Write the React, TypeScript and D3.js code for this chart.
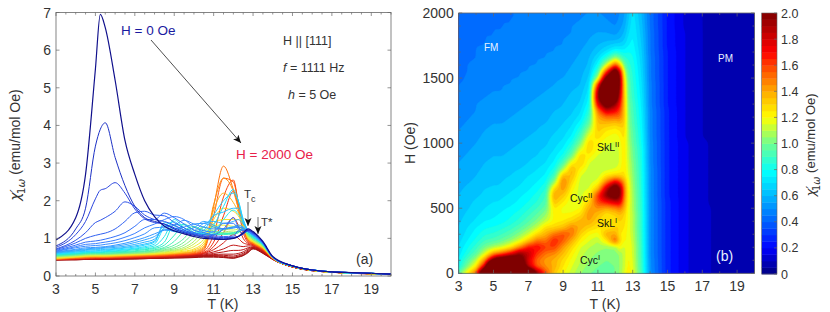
import React, { useMemo } from "react";
import * as d3 from "d3";

const temps = [3,4,4.5,5,5.25,5.5,6,6.5,7,7.5,8,8.5,9,9.5,10,10.5,11,11.5,12,12.25,12.5,12.75,13,13.5,14,15,16,17,18,19,20];
const fields = d3.range(0, 2001, 50);
const chiRows = [
[.96,1.55,2.7,5.5,6.95,6.6,5.2,3.6,2.7,2.0,1.58,1.32,1.2,1.12,1.05,1.0,.98,.97,1.0,1.05,1.15,1.25,1.18,.92,.52,.27,.16,.11,.09,.07,.05],
[.8,1.25,1.8,3.45,3.9,4.07,3.15,2.4,1.85,1.55,1.45,1.38,1.25,1.15,1.08,1.03,1.0,.98,1.0,1.05,1.12,1.22,1.16,.9,.51,.27,.16,.11,.09,.07,.05],
[.76,1.1,1.45,2.05,2.28,2.32,2.48,2.2,1.78,1.52,1.42,1.38,1.28,1.18,1.1,1.05,1.02,1.0,1.02,1.05,1.12,1.22,1.15,.9,.51,.27,.16,.11,.09,.07,.05],
[.72,.95,1.15,1.42,1.48,1.55,1.72,1.97,1.85,1.62,1.5,1.45,1.35,1.22,1.12,1.07,1.04,1.02,1.03,1.05,1.12,1.2,1.14,.89,.5,.27,.16,.11,.09,.07,.05],
[.7,.88,1.0,1.08,1.11,1.14,1.25,1.45,1.68,1.72,1.62,1.6,1.42,1.28,1.15,1.1,1.07,1.05,1.06,1.2,1.13,1.2,1.14,.89,.5,.27,.16,.11,.09,.07,.05],
[.68,.82,.9,.93,.95,.98,1.05,1.15,1.32,1.5,1.5,1.67,1.55,1.38,1.22,1.15,1.1,1.25,1.55,1.3,1.2,1.2,1.12,.88,.5,.27,.16,.11,.09,.07,.05],
[.66,.78,.84,.86,.88,.9,.95,1.03,1.13,1.28,1.38,1.5,1.58,1.5,1.3,1.2,1.17,1.4,1.4,1.25,1.22,1.18,1.11,.88,.5,.27,.16,.11,.09,.07,.05],
[.65,.75,.79,.81,.82,.84,.88,.94,1.02,1.12,1.28,1.3,1.35,1.48,1.38,1.3,1.25,1.25,1.3,1.3,1.25,1.18,1.1,.87,.5,.27,.16,.11,.09,.07,.05],
[.64,.71,.75,.76,.77,.78,.82,.87,.94,1.02,1.12,1.22,1.25,1.3,1.38,1.4,1.3,1.25,1.27,1.3,1.28,1.18,1.1,.87,.5,.27,.16,.11,.09,.07,.05],
[.63,.69,.72,.74,.75,.76,.79,.83,.89,.96,1.05,1.22,1.2,1.22,1.28,1.45,1.35,1.25,1.3,1.35,1.3,1.18,1.1,.87,.5,.27,.16,.11,.09,.07,.05],
[.62,.67,.7,.72,.73,.74,.76,.79,.84,.9,.98,1.25,1.18,1.16,1.2,1.4,1.45,1.4,1.45,1.5,1.38,1.18,1.08,.86,.5,.27,.16,.11,.09,.07,.05],
[.61,.66,.68,.7,.7,.71,.73,.76,.8,.85,.93,1.35,1.25,1.15,1.15,1.3,1.6,1.7,1.8,1.8,1.45,1.2,1.08,.86,.5,.27,.16,.11,.08,.07,.05],
[.6,.64,.66,.67,.68,.69,.71,.74,.77,.82,.9,1.42,1.33,1.18,1.13,1.22,1.62,2.0,2.2,2.0,1.5,1.2,1.07,.85,.5,.26,.16,.11,.08,.07,.05],
[.59,.63,.65,.66,.66,.67,.69,.71,.74,.78,.85,1.3,1.44,1.22,1.12,1.15,1.35,1.85,2.3,2.0,1.5,1.2,1.06,.85,.5,.26,.16,.11,.08,.07,.05],
[.58,.61,.63,.64,.64,.65,.67,.69,.72,.75,.8,1.05,1.5,1.28,1.12,1.12,1.18,1.5,1.75,1.65,1.42,1.18,1.05,.84,.5,.26,.16,.11,.08,.07,.05],
[.57,.6,.62,.63,.63,.64,.65,.67,.7,.72,.76,.9,1.36,1.36,1.15,1.1,1.12,1.25,1.3,1.3,1.28,1.15,1.04,.84,.5,.26,.16,.11,.08,.07,.05],
[.56,.59,.61,.62,.62,.63,.64,.65,.67,.7,.73,.82,1.08,1.38,1.22,1.12,1.1,1.12,1.15,1.18,1.25,1.13,1.03,.83,.5,.26,.16,.11,.08,.07,.05],
[.55,.58,.6,.61,.61,.61,.62,.63,.65,.67,.7,.76,.92,1.2,1.32,1.15,1.1,1.1,1.12,1.15,1.25,1.12,1.02,.83,.49,.26,.16,.11,.08,.07,.05],
[.54,.57,.59,.6,.6,.6,.61,.62,.64,.65,.68,.73,.82,1.0,1.3,1.22,1.14,1.12,1.12,1.15,1.25,1.1,1.0,.82,.49,.26,.16,.11,.08,.07,.05],
[.53,.56,.58,.59,.59,.59,.6,.61,.62,.64,.66,.7,.76,.9,1.15,1.3,1.18,1.14,1.13,1.15,1.25,1.1,.99,.82,.49,.26,.16,.11,.08,.07,.05],
[.52,.55,.57,.58,.58,.58,.59,.6,.61,.62,.64,.68,.72,.82,1.02,1.3,1.2,1.15,1.14,1.17,1.25,1.08,.97,.8,.49,.26,.16,.11,.08,.07,.05],
[.51,.54,.56,.57,.57,.57,.58,.59,.6,.61,.63,.66,.69,.76,.92,1.2,1.28,1.2,1.17,1.2,1.28,1.06,.96,.79,.48,.26,.15,.1,.08,.06,.05],
[.5,.53,.55,.56,.56,.56,.57,.58,.59,.6,.62,.64,.67,.72,.85,1.08,1.32,1.25,1.22,1.25,1.3,1.05,.95,.78,.48,.26,.15,.1,.08,.06,.05],
[.49,.52,.54,.55,.55,.55,.56,.57,.58,.59,.6,.62,.65,.69,.78,.97,1.35,1.35,1.32,1.35,1.32,1.03,.93,.77,.48,.26,.15,.1,.08,.06,.05],
[.48,.51,.53,.54,.54,.54,.55,.56,.57,.58,.59,.61,.63,.66,.72,.9,1.4,1.5,1.5,1.5,1.35,1.02,.92,.76,.48,.26,.15,.1,.08,.06,.05],
[.47,.5,.52,.53,.53,.53,.54,.55,.56,.57,.58,.6,.61,.64,.69,.84,1.5,1.8,1.72,1.6,1.35,1.0,.91,.75,.48,.26,.15,.1,.08,.06,.05],
[.46,.5,.51,.52,.52,.52,.53,.54,.55,.56,.57,.58,.6,.62,.66,.79,1.75,2.2,1.95,1.7,1.35,.99,.9,.74,.47,.25,.15,.1,.08,.06,.05],
[.45,.49,.5,.51,.51,.51,.52,.53,.54,.55,.56,.57,.59,.61,.64,.75,1.9,2.6,2.25,1.8,1.35,.97,.88,.73,.47,.25,.15,.1,.08,.06,.05],
[.45,.48,.49,.5,.5,.5,.51,.52,.53,.54,.55,.56,.58,.6,.62,.72,1.85,2.92,2.3,1.9,1.32,.96,.87,.72,.47,.25,.15,.1,.08,.06,.05],
[.45,.47,.48,.49,.49,.5,.5,.51,.52,.53,.54,.55,.57,.58,.6,.69,1.6,2.6,2.5,1.95,1.3,.95,.86,.71,.47,.25,.15,.1,.08,.06,.05],
[.44,.47,.48,.49,.49,.49,.5,.5,.51,.52,.53,.54,.55,.57,.59,.66,1.1,2.1,2.55,1.95,1.25,.93,.85,.7,.46,.25,.15,.1,.08,.06,.05],
[.44,.46,.47,.48,.48,.48,.49,.5,.5,.51,.52,.53,.54,.56,.58,.63,.9,1.6,2.25,1.8,1.15,.9,.84,.69,.46,.25,.15,.1,.08,.06,.05],
[.44,.46,.47,.47,.48,.48,.48,.49,.5,.5,.51,.52,.53,.55,.57,.61,.78,1.15,1.55,1.35,1.0,.87,.83,.68,.46,.25,.15,.1,.08,.06,.05],
[.44,.45,.46,.47,.47,.47,.48,.48,.49,.5,.5,.51,.52,.54,.56,.6,.7,.88,1.1,1.0,.88,.84,.81,.67,.46,.25,.15,.1,.08,.06,.05],
[.44,.45,.46,.46,.46,.47,.47,.48,.48,.49,.5,.5,.51,.53,.55,.58,.64,.72,.82,.8,.78,.8,.79,.66,.45,.25,.15,.1,.08,.06,.05],
[.43,.45,.45,.46,.46,.46,.47,.47,.48,.48,.49,.5,.5,.52,.54,.56,.6,.64,.68,.68,.7,.75,.77,.65,.45,.24,.15,.1,.08,.06,.05],
[.43,.44,.45,.45,.46,.46,.46,.47,.47,.48,.48,.49,.5,.51,.53,.55,.57,.58,.58,.6,.64,.72,.76,.64,.45,.24,.15,.1,.08,.06,.05],
[.43,.44,.45,.45,.45,.45,.46,.46,.47,.47,.48,.49,.49,.5,.52,.54,.55,.55,.53,.56,.6,.69,.75,.63,.45,.24,.15,.1,.08,.06,.05],
[.43,.44,.44,.45,.45,.45,.45,.46,.46,.47,.47,.48,.49,.5,.51,.53,.54,.52,.5,.53,.57,.66,.74,.62,.44,.24,.14,.1,.07,.06,.05],
[.43,.43,.44,.44,.44,.45,.45,.45,.46,.46,.47,.48,.48,.49,.5,.52,.52,.5,.48,.51,.55,.64,.73,.61,.44,.24,.14,.1,.07,.06,.05],
[.43,.43,.44,.44,.44,.44,.45,.45,.45,.46,.47,.47,.48,.48,.49,.5,.5,.49,.47,.5,.54,.62,.72,.6,.44,.24,.14,.1,.07,.06,.05],
];
const tTicks = [3,5,7,9,11,13,15,17,19];
const chiTicks = [0,1,2,3,4,5,6,7];
const hTicks = [0,500,1000,1500,2000];
const barTicks = [0,.2,.4,.6,.8,1,1.2,1.4,1.6,1.8,2];
const heatStops = [0,.2,.4,.6,.78,1.0,1.2,1.4,1.6,1.7,1.85,2];
const heatColors = ["#00007f","#0000ff","#0060ff","#00b8ff","#00ffff","#70ff90","#ffff00","#ffaa00","#ff4000","#ff0000","#c00000","#7f0000"];
const lineStops = [0,50,100,200,300,500,650,800,1000,1150,1250,1350,1450,1550,1700,2000];
const lineColors = ["#10108c","#1c30c4","#2b45dd","#3060f0","#3a80ff","#30b0ff","#20e0ff","#30f0c0","#90f080","#e8f030","#ffd020","#ff9010","#ff5a10","#f03010","#c01818","#a01010"];

const FONT = "'Liberation Sans', Arial, sans-serif";
const INK = "#333";
const FRAME = "#666";
const L = { x0: 56, x1: 391, y0: 276, y1: 12.5 };
const R = { x0: 458.7, x1: 754.5, y0: 273.3, y1: 13 };
const B = { x0: 761.7, x1: 777, y0: 274, y1: 13 };

const heatColor = d3.scaleLinear<string>().domain(heatStops).range(heatColors).clamp(true);
const lineColor = d3.scaleLinear<string>().domain(lineStops).range(lineColors);

function Frame({ b, x, y, xt, yt, xMinor, yMinor }: any) {
  return (
    <g>
      <rect x={b.x0} y={b.y1} width={b.x1 - b.x0} height={b.y0 - b.y1} fill="none" stroke={FRAME} strokeWidth={0.8} />
      {xMinor.map((t: number) => {
        const major = xt.includes(t), s = major ? 3.5 : 2;
        return <path key={t} d={`M${x(t)},${b.y0}v${-s}M${x(t)},${b.y1}v${s}`} stroke={FRAME} strokeWidth={0.7} />;
      })}
      {yMinor.map((v: number) => {
        const major = yt.includes(v), s = major ? 3.5 : 2;
        return <path key={v} d={`M${b.x0},${y(v)}h${s}M${b.x1},${y(v)}h${-s}`} stroke={FRAME} strokeWidth={0.7} />;
      })}
      {xt.map((t: number) => (
        <text key={t} x={x(t)} y={b.y0 + 17.5} fontSize={14} textAnchor="middle" fill={INK} fontFamily={FONT}>{t}</text>
      ))}
      {yt.map((v: number) => (
        <text key={v} x={b.x0 - 5} y={y(v) + 5} fontSize={14} textAnchor="end" fill={INK} fontFamily={FONT}>{v}</text>
      ))}
    </g>
  );
}

function Chi({ x, y, suffix, size = 14 }: any) {
  return (
    <text transform={`translate(${x},${y}) rotate(-90)`} textAnchor="middle" fontSize={size} fill={INK} fontFamily={FONT}>
      <tspan fontFamily="'DejaVu Sans'" fontStyle="italic">χ′</tspan>
      <tspan fontSize={size * 0.75} dy={5} dx={-5} fontFamily="'DejaVu Sans'">1<tspan fontStyle="italic">ω</tspan></tspan>
      <tspan dy={-5}>{suffix}</tspan>
    </text>
  );
}

function sampleGrid(t: number, h: number) {
  const i = Math.min(d3.bisectRight(temps, t) - 1, temps.length - 2);
  const j = Math.min(Math.floor(h / 50), fields.length - 2);
  const u = (t - temps[i]) / (temps[i + 1] - temps[i]);
  const w = (h - fields[j]) / 50;
  const a = chiRows[j][i], b = chiRows[j][i + 1], c = chiRows[j + 1][i], e = chiRows[j + 1][i + 1];
  return (a * (1 - u) + b * u) * (1 - w) + (c * (1 - u) + e * u) * w;
}

export default function App() {
  const lx = d3.scaleLinear().domain([3, 20]).range([L.x0, L.x1]);
  const ly = d3.scaleLinear().domain([0, 7]).range([L.y0, L.y1]);
  const rx = d3.scaleLinear().domain([3, 20]).range([R.x0, R.x1]);
  const ry = d3.scaleLinear().domain([0, 2000]).range([R.y0, R.y1]);
  const by = d3.scaleLinear().domain([0, 2]).range([B.y0, B.y1]);
  const line = d3.line<number>().x((_, i) => lx(temps[i])).y((v) => ly(v)).curve(d3.curveMonotoneX);

  const bands = useMemo(() => {
    const nx = 341, ny = 201;
    const dt = 17 / (nx - 1), dh = 2000 / (ny - 1);
    const vals = new Float64Array(nx * ny);
    for (let j = 0; j < ny; j++) for (let i = 0; i < nx; i++) {
      vals[j * nx + i] = Math.min(sampleGrid(3 + i * dt, j * dh), 2.6);
    }
    const grid = { data: vals, width: nx, height: ny };
    d3.blur2(grid, 1, 1);
    const thresholds = d3.range(0, 2.001, 0.05);
    const cs = d3.contours().size([nx, ny]).thresholds(thresholds)(Array.from(vals));
    const proj = d3.geoTransform({
      point(px: number, py: number) {
        (this as any).stream.point(rx(3 + (px - 0.5) * dt), ry((py - 0.5) * dh));
      },
    });
    const path = d3.geoPath(proj);
    return cs.map((c) => ({ v: c.value, d: path(c as any) || "" }));
  }, []);

  const barBands = d3.range(0, 2, 0.05);

  return (
    <svg width={830} height={312} style={{ position: "absolute", left: 0, top: 0 }}>
      <defs>
        <clipPath id="cl"><rect x={L.x0} y={L.y1} width={L.x1 - L.x0} height={L.y0 - L.y1} /></clipPath>
        <clipPath id="cr"><rect x={R.x0} y={R.y1} width={R.x1 - R.x0} height={R.y0 - R.y1} /></clipPath>
        <marker id="ah" markerWidth={9} markerHeight={8} refX={8} refY={3.5} orient="auto" markerUnits="userSpaceOnUse">
          <path d="M0,0L8,3.5L0,7L2,3.5Z" fill="#111" />
        </marker>
      </defs>

      {/* panel (a) */}
      <g clipPath="url(#cl)">
        {chiRows.map((row, k) => ({ row, k })).reverse().map(({ row, k }) => (
          <path key={k} d={line(row) || ""} fill="none" stroke={lineColor(fields[k])} strokeWidth={k === 0 ? 1.2 : 1} />
        ))}
      </g>
      <Frame b={L} x={lx} y={ly} xt={tTicks} yt={chiTicks} xMinor={d3.range(3, 20.01, 0.5)} yMinor={chiTicks} />
      <Chi x={20} y={145} suffix=" (emu/mol Oe)" />
      <text x={223} y={309} textAnchor="middle" fontSize={14} fill={INK} fontFamily={FONT}>T (K)</text>
      <text x={121} y={35} fontSize={13.5} fill="#1a1aa0" fontFamily={FONT}>H = 0 Oe</text>
      <text x={236} y={159} fontSize={13.5} fill="#e8204a" fontFamily={FONT}>H = 2000 Oe</text>
      <text x={283} y={45} fontSize={12.5} fill={INK} fontFamily={FONT}>H || [111]</text>
      <text x={283} y={72} fontSize={12.5} fill={INK} fontFamily={FONT}><tspan fontStyle="italic">f</tspan> = 1111 Hz</text>
      <text x={288} y={99} fontSize={12.5} fill={INK} fontFamily={FONT}><tspan fontStyle="italic">h</tspan> = 5 Oe</text>
      <text x={356} y={264} fontSize={14} fill={INK} fontFamily={FONT}>(a)</text>
      <path d="M151,40L241,143" stroke="#222" strokeWidth={0.8} fill="none" markerEnd="url(#ah)" />
      <text x={244} y={198} fontSize={11.5} fill={INK} fontFamily={FONT}>T<tspan fontSize={9} dy={4}>c</tspan></text>
      <path d="M248,202V226" stroke="#666" strokeWidth={0.9} fill="none" markerEnd="url(#ah)" />
      <path d="M258,217V234" stroke="#444" strokeWidth={0.8} fill="none" markerEnd="url(#ah)" />
      <text x={261} y={226} fontSize={11.5} fill={INK} fontFamily={FONT}>T*</text>

      {/* panel (b) */}
      <g clipPath="url(#cr)">
        <rect x={R.x0} y={R.y1} width={R.x1 - R.x0} height={R.y0 - R.y1} fill={heatColor(0)} />
        {bands.map((b) => (
          <path key={b.v} d={b.d} fill={heatColor(b.v + 0.025)} stroke={heatColor(b.v + 0.025)} strokeWidth={0.3} />
        ))}
      </g>
      <Frame b={R} x={rx} y={ry} xt={tTicks} yt={hTicks} xMinor={d3.range(3, 20.01, 1)} yMinor={d3.range(0, 2000.1, 100)} />
      <text transform="translate(415,143) rotate(-90)" textAnchor="middle" fontSize={14} fill={INK} fontFamily={FONT}>H (Oe)</text>
      <text x={605} y={309} textAnchor="middle" fontSize={14} fill={INK} fontFamily={FONT}>T (K)</text>
      <text x={484} y={51} fontSize={10} fill="#e8f0ff" fontFamily={FONT}>FM</text>
      <text x={718} y={62} fontSize={10} fill="#e8f0ff" fontFamily={FONT}>PM</text>
      <text x={716} y={261} fontSize={14} fill="#e8f0ff" fontFamily={FONT}>(b)</text>
      <text x={597} y={151} fontSize={10.5} fill="#111" fontFamily={FONT}>SkL<tspan fontSize={7.5} dy={-4}>II</tspan></text>
      <text x={570} y={202} fontSize={10.5} fill="#111" fontFamily={FONT}>Cyc<tspan fontSize={7.5} dy={-4}>II</tspan></text>
      <text x={597} y={227} fontSize={10.5} fill="#111" fontFamily={FONT}>SkL<tspan fontSize={7.5} dy={-4}>I</tspan></text>
      <text x={580} y={264} fontSize={10.5} fill="#111" fontFamily={FONT}>Cyc<tspan fontSize={7.5} dy={-4}>I</tspan></text>

      {/* colour bar */}
      {barBands.map((v) => (
        <rect key={v} x={B.x0} y={by(v + 0.05)} width={B.x1 - B.x0} height={by(v) - by(v + 0.05) + 0.4} fill={heatColor(v + 0.025)} />
      ))}
      <rect x={B.x0} y={B.y1} width={B.x1 - B.x0} height={B.y0 - B.y1} fill="none" stroke={FRAME} strokeWidth={0.6} />
      {barTicks.map((v) => (
        <g key={v}>
          <path d={`M${B.x1},${by(v)}h-3`} stroke={FRAME} strokeWidth={0.7} />
          <text x={781} y={by(v) + 4.5} fontSize={12.5} fill={INK} fontFamily={FONT}>{d3.format(v === 0 ? "d" : ".1f")(v)}</text>
        </g>
      ))}
      <Chi x={815} y={145} suffix=" (emu/mol Oe)" size={13} />
    </svg>
  );
}
